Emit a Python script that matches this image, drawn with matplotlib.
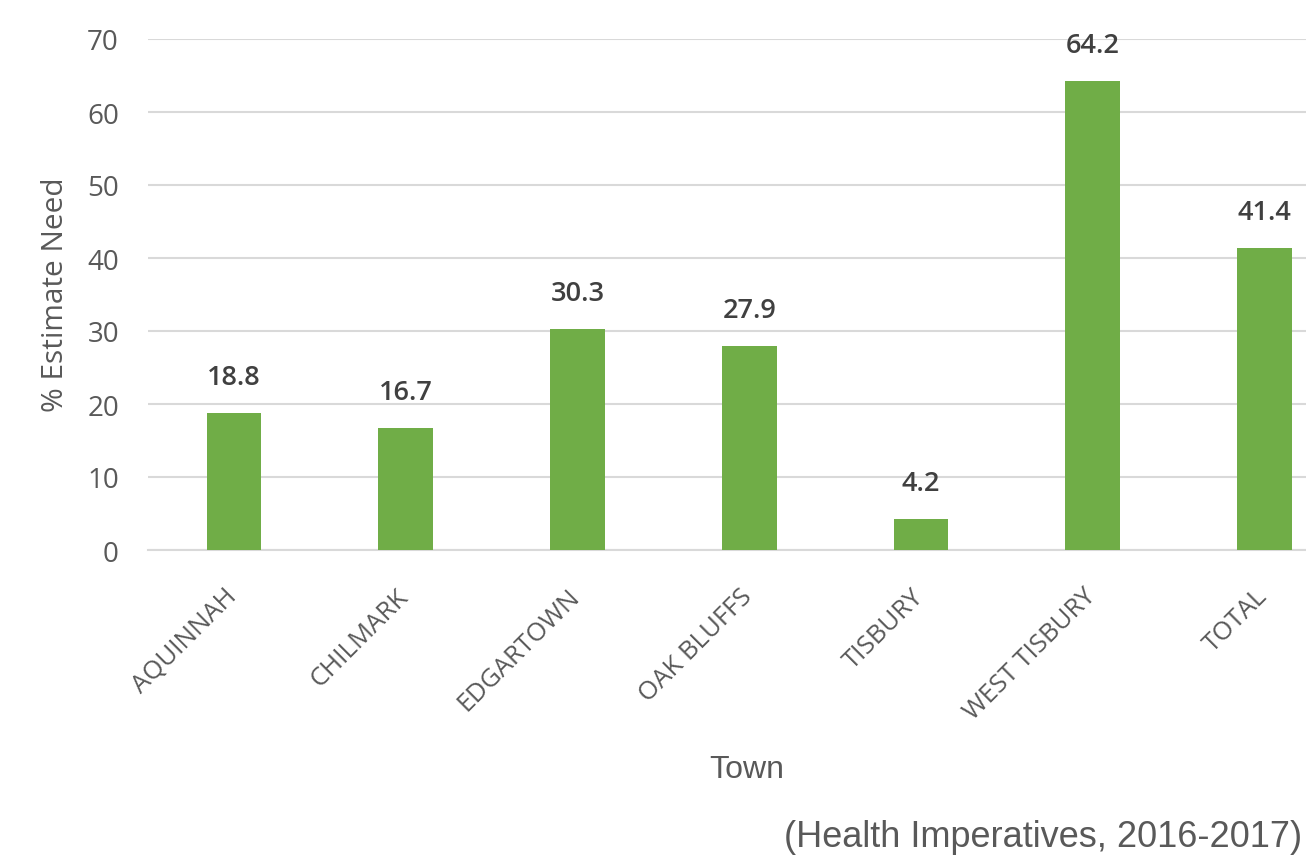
import matplotlib.pyplot as plt
import matplotlib.transforms as mtransforms

towns = ['AQUINNAH', 'CHILMARK', 'EDGARTOWN', 'OAK BLUFFS', 'TISBURY', 'WEST TISBURY', 'TOTAL']
need = [18.8, 16.7, 30.3, 27.9, 4.2, 64.2, 41.4]

bar_color = '#70ad47'
text_color = '#595959'

# axes run past the right edge of the figure, like the cropped original
step = 171.75
fig = plt.figure(figsize=(13.06, 8.62), dpi=100)
ax = fig.add_axes([(234 - step / 2) / 1306, 1 - 551 / 862, 7 * step / 1306, 511 / 862])

x = range(len(towns))
ax.bar(x, need, width=0.32, color=bar_color, zorder=3)

for xi, v in zip(x, need):
    ax.text(xi, v + 3.0, f'{v}', ha='center', va='bottom', fontsize=19.5,
            family='Open Sans', fontweight='semibold', color='#404040')

ax.set_ylim(0, 70)
ax.set_xlim(-0.5, len(towns) - 0.5)
ax.set_yticks(range(0, 71, 10))
ax.grid(axis='y', color='#d9d9d9', linewidth=1.5, zorder=0)
for s in ['top', 'right', 'left']:
    ax.spines[s].set_visible(False)
ax.spines['bottom'].set_color('#d9d9d9')
ax.spines['bottom'].set_linewidth(1.5)
ax.tick_params(axis='both', length=0)
ax.tick_params(axis='y', pad=21)

ax.set_yticklabels([str(t) for t in range(0, 71, 10)], fontsize=20,
                   family='Open Sans', color=text_color)
ax.set_xticks(list(x))
ax.set_xticklabels(towns, rotation=45, ha='right', rotation_mode='anchor',
                   fontsize=18.5, family='Open Sans', color=text_color)
ax.tick_params(axis='x', pad=24)
shift = mtransforms.ScaledTranslation(-10 / 100, 0, fig.dpi_scale_trans)
for lab in ax.get_xticklabels():
    lab.set_transform(lab.get_transform() + shift)

ax.set_ylabel('% Estimate Need', fontsize=21.5, family='Open Sans', color=text_color)
ax.yaxis.set_label_coords(70 / 1306, 1 - 295 / 862, transform=fig.transFigure)

fig.text(747 / 1306, 1 - 770 / 862, 'Town', ha='center', va='center', fontsize=23,
         family='Liberation Sans', color=text_color)
fig.text(1302 / 1306, 1 - 838 / 862, '(Health Imperatives, 2016-2017)', ha='right', va='center',
         fontsize=26, family='Liberation Sans', color=text_color)

fig.savefig('out.png', dpi=100)
